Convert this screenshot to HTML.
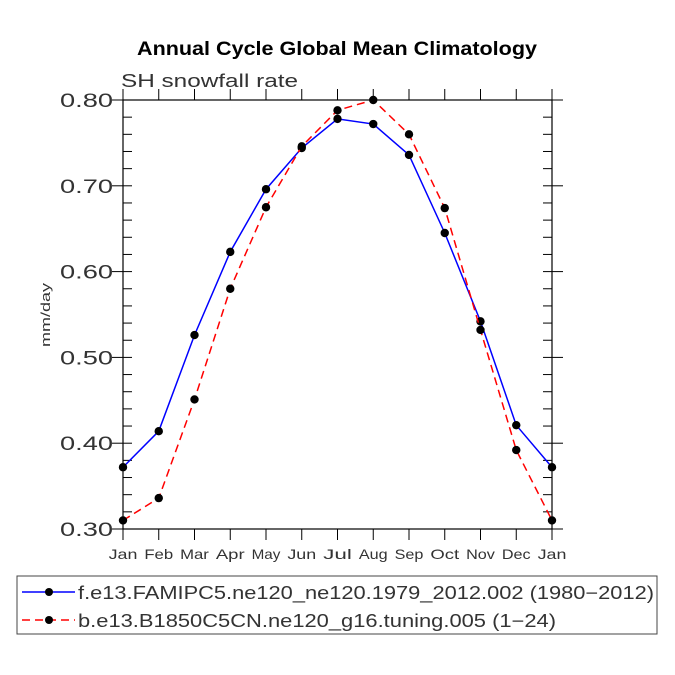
<!DOCTYPE html>
<html><head><meta charset="utf-8"><style>
body{margin:0;background:#fff}svg{display:block;font-family:"Liberation Sans",sans-serif}
</style></head><body>
<svg id="c" width="675" height="675">
<text x="137" y="55" textLength="400" lengthAdjust="spacingAndGlyphs" font-weight="bold" font-size="19">Annual Cycle Global Mean Climatology</text>
<text x="121" y="87" textLength="177" lengthAdjust="spacingAndGlyphs" font-size="18" fill="#333">SH snowfall rate</text>
<text transform="translate(50,315) rotate(-90)" text-anchor="middle" textLength="64" lengthAdjust="spacingAndGlyphs" font-size="13" fill="#333">mm/day</text>
<g id="axes"></g><g id="series"></g>
<rect x="17" y="576" width="640" height="58" fill="none" stroke="#444"/>
<line x1="22" y1="592" x2="75" y2="592" stroke="blue" stroke-width="1.5"/>
<circle cx="49" cy="592" r="4"/>
<text x="78" y="599" textLength="576" lengthAdjust="spacingAndGlyphs" font-size="18" fill="#333">f.e13.FAMIPC5.ne120_ne120.1979_2012.002 (1980−2012)</text>
<line x1="22" y1="620" x2="75" y2="620" stroke="red" stroke-width="1.5" stroke-dasharray="8,5"/>
<circle cx="49" cy="620" r="4"/>
<text x="78" y="627" textLength="478" lengthAdjust="spacingAndGlyphs" font-size="18" fill="#333">b.e13.B1850C5CN.ne120_g16.tuning.005 (1−24)</text>
</svg>
<script>
const months=["Jan","Feb","Mar","Apr","May","Jun","Jul","Aug","Sep","Oct","Nov","Dec","Jan"];
const blueVals=[0.372,0.414,0.526,0.623,0.696,0.744,0.778,0.772,0.736,0.645,0.542,0.421,0.372];
const redVals=[0.310,0.336,0.451,0.580,0.675,0.746,0.788,0.800,0.760,0.674,0.532,0.392,0.310];
const yTicks=[0.30,0.40,0.50,0.60,0.70,0.80];
const NS="http://www.w3.org/2000/svg";
const L=123,R=552,T=100,B=529;
const xs=i=>L+(R-L)*i/(months.length-1);
const ys=v=>B-(v-0.30)/(0.50)*(B-T);
function el(p,t,a){const e=document.createElementNS(NS,t);for(const k in a)e.setAttribute(k,a[k]);p.appendChild(e);return e;}
const ax=document.getElementById('axes');
const fr=el(ax,'rect',{x:L,y:T,width:R-L,height:B-T,fill:'none',stroke:'#000','stroke-width':1.2});


months.forEach((m,i)=>{const x=xs(i);
el(ax,'line',{x1:x,y1:B,x2:x,y2:B+11,stroke:'#000'});
el(ax,'line',{x1:x,y1:T,x2:x,y2:T-11,stroke:'#000'});
const t=el(ax,'text',{x:x,y:B+30,'text-anchor':'middle','font-size':14,fill:'#333',textLength:m.length*9.6,lengthAdjust:'spacingAndGlyphs'});t.textContent=m;

});
for(let v=0.30;v<=0.8001;v+=0.02){const y=ys(v);
el(ax,'line',{x1:L,y1:y,x2:L+9,y2:y,stroke:'#000'});el(ax,'line',{x1:R,y1:y,x2:R-9,y2:y,stroke:'#000'});}
yTicks.forEach(v=>{const y=ys(v);
el(ax,'line',{x1:L-11,y1:y,x2:L,y2:y,stroke:'#000'});el(ax,'line',{x1:R,y1:y,x2:R+11,y2:y,stroke:'#000'});
const t=el(ax,'text',{x:L-10,y:y+7,'text-anchor':'end','font-size':19,fill:'#333',textLength:53,lengthAdjust:'spacingAndGlyphs'});t.textContent=v.toFixed(2);

});
const sg=document.getElementById('series');
function draw(vals,color,dash,name){
const p=el(sg,'polyline',{points:vals.map((v,i)=>xs(i)+','+ys(v)).join(' '),fill:'none',stroke:color,'stroke-width':1.5});
if(dash)p.setAttribute('stroke-dasharray',dash);


vals.forEach((v,i)=>{const c=el(sg,'circle',{cx:xs(i),cy:ys(v),r:4.2,fill:'#000'});

});}
draw(blueVals,'blue',null,'blue-series');
draw(redVals,'red','8,5','red-series');
</script>
</body></html>
